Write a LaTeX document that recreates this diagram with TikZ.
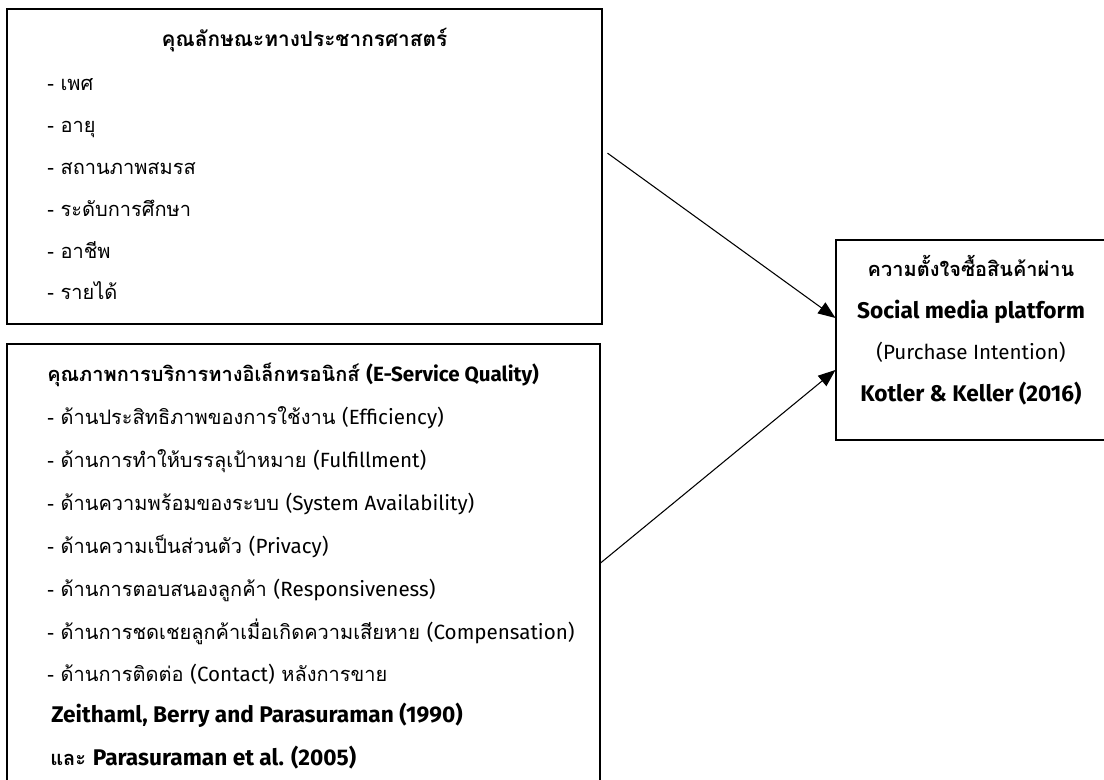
\documentclass[tikz,border=0pt]{standalone}
\usepackage{fontspec}
\setmainfont{Loma}[Script=Thai]
\newfontfamily\latfont{Fira Sans}[Scale=1.03]
\newcommand\lat[1]{{\latfont #1}}
\newcommand\latb[1]{{\latfont\fontsize{16.5}{19}\selectfont #1}}
\usetikzlibrary{arrows.meta}

\tikzset{
  box/.style={draw, line width=0.8pt, inner sep=0pt},
  txt/.style={anchor=base west, inner sep=0pt, font=\fontsize{15}{18}\selectfont},
  bold/.style={txt, font=\bfseries\fontsize{15}{18}\selectfont},
  link/.style={-{Triangle[length=13pt,width=10pt]}, line width=0.8pt}
}

\begin{document}
\begin{tikzpicture}[x=0.75pt, y=-0.75pt]
  \useasboundingbox (0,0) rectangle (1104,780);
  \clip (0,0) rectangle (1104,780);
  % demographic box
  \node[box, minimum width=446.25pt, minimum height=236.25pt] (demo) at (304.5,166.5) {};
  \node[bold, anchor=base, font=\bfseries\fontsize{15.6}{18}\selectfont] (demotitle) at (304.5,47) {คุณลักษณะทางประชากรศาสตร์};
  \foreach \t [count=\i] in {เพศ, อายุ, สถานภาพสมรส, ระดับการศึกษา, อาชีพ, รายได้}
    \node[txt] (demo\i) at (47,{91+41.8*(\i-1)}) {- \t};
  % e-service quality box
  \node[box, minimum width=444.75pt, minimum height=328.5pt] (esq) at (303.5,563) {};
  \node[bold] (esqtitle) at (47,382) {คุณภาพการบริการทางอิเล็กทรอนิกส์ \lat{(E-Service Quality)}};
  \foreach \t [count=\i] in {ด้านประสิทธิภาพของการใช้งาน \lat{(Efficiency)},
      ด้านการทำให้บรรลุเป้าหมาย \lat{(Fulfillment)},
      ด้านความพร้อมของระบบ \lat{(System Availability)},
      ด้านความเป็นส่วนตัว \lat{(Privacy)},
      ด้านการตอบสนองลูกค้า \lat{(Responsiveness)},
      ด้านการชดเชยลูกค้าเมื่อเกิดความเสียหาย \lat{(Compensation)},
      ด้านการติดต่อ \lat{(Contact)} หลังการขาย}
    \node[txt] (esq\i) at (47,{425+42.8*(\i-1)}) {- \t};
  \node[bold] (esqref1) at (51,722) {\latb{Zeithaml, Berry and Parasuraman (1990)}};
  \node[bold] (esqref2) at (50,765) {และ \latb{Parasuraman et al. (2005)}};
  % purchase intention box
  \node[box, minimum width=202.5pt, minimum height=150pt] (intent) at (971,340) {};
  \node[bold, anchor=base] (intent1) at (971,277) {ความตั้งใจซื้อสินค้าผ่าน};
  \node[bold, anchor=base] (intent2) at (971,319) {\latb{Social media platform}};
  \node[txt, anchor=base] (intent3) at (971,360) {\lat{(Purchase Intention)}};
  \node[bold, anchor=base] (intent4) at (971,402) {\latb{Kotler \& Keller (2016)}};
  % arrows
  \draw[link] ([xshift=3.75pt, yshift=10pt]demo.east) -- ([yshift=16.5pt]intent.west);
  \draw[link] (esq.east) -- ([yshift=-22.5pt]intent.west);
\end{tikzpicture}
\end{document}
